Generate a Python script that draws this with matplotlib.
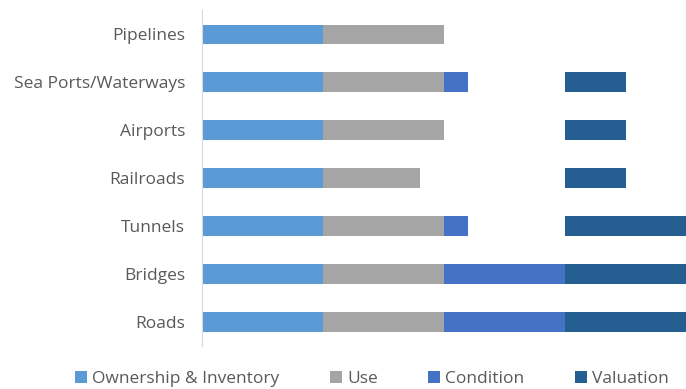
import matplotlib.pyplot as plt

# Data (each stage scored 0..1)
categories = ['Roads', 'Bridges', 'Tunnels', 'Railroads', 'Airports',
              'Sea Ports/Waterways', 'Pipelines']
ownership = [1, 1, 1, 1, 1, 1, 1]
use = [1, 1, 1, 0.8, 1, 1, 1]
condition = [1, 1, 0.2, 0, 0, 0.2, 0]
valuation = [1, 1, 1, 0.5, 0.5, 0.5, 0]

series = [
    ('Ownership & Inventory', ownership, '#5B9BD5'),
    ('Use', use, '#A5A5A5'),
    ('Condition', condition, '#4472C4'),
    ('Valuation', valuation, '#255E91'),
]

plt.rcParams['font.family'] = ['Open Sans', 'DejaVu Sans']

fig = plt.figure(figsize=(6.86, 3.89), dpi=100)
ax = fig.add_axes([0.2945, 0.1105, 0.7055, 0.8635])

y = range(len(categories))
# every stage has its own column: stage i starts at i
for i, (name, vals, color) in enumerate(series):
    ax.barh(y, vals, left=i, height=0.4, color=color, label=name)

ax.set_xlim(0, 4)
ax.set_ylim(-0.5, len(categories) - 0.5)
ax.set_yticks(list(y))
ax.set_yticklabels(categories, fontsize=12.5, color='#595959')
ax.tick_params(axis='y', length=0, pad=12)
ax.set_xticks([])

for side in ['top', 'right', 'bottom']:
    ax.spines[side].set_visible(False)
ax.spines['left'].set_color('#D9D9D9')

ax.legend(loc='center', bbox_to_anchor=(0.542, 0.026), bbox_transform=fig.transFigure,
          ncol=4, frameon=False, fontsize=12.5, labelcolor='#595959',
          handlelength=0.7, handleheight=0.7, handletextpad=0.3, columnspacing=2.9,
          borderpad=0.2)

plt.savefig('out.png')
